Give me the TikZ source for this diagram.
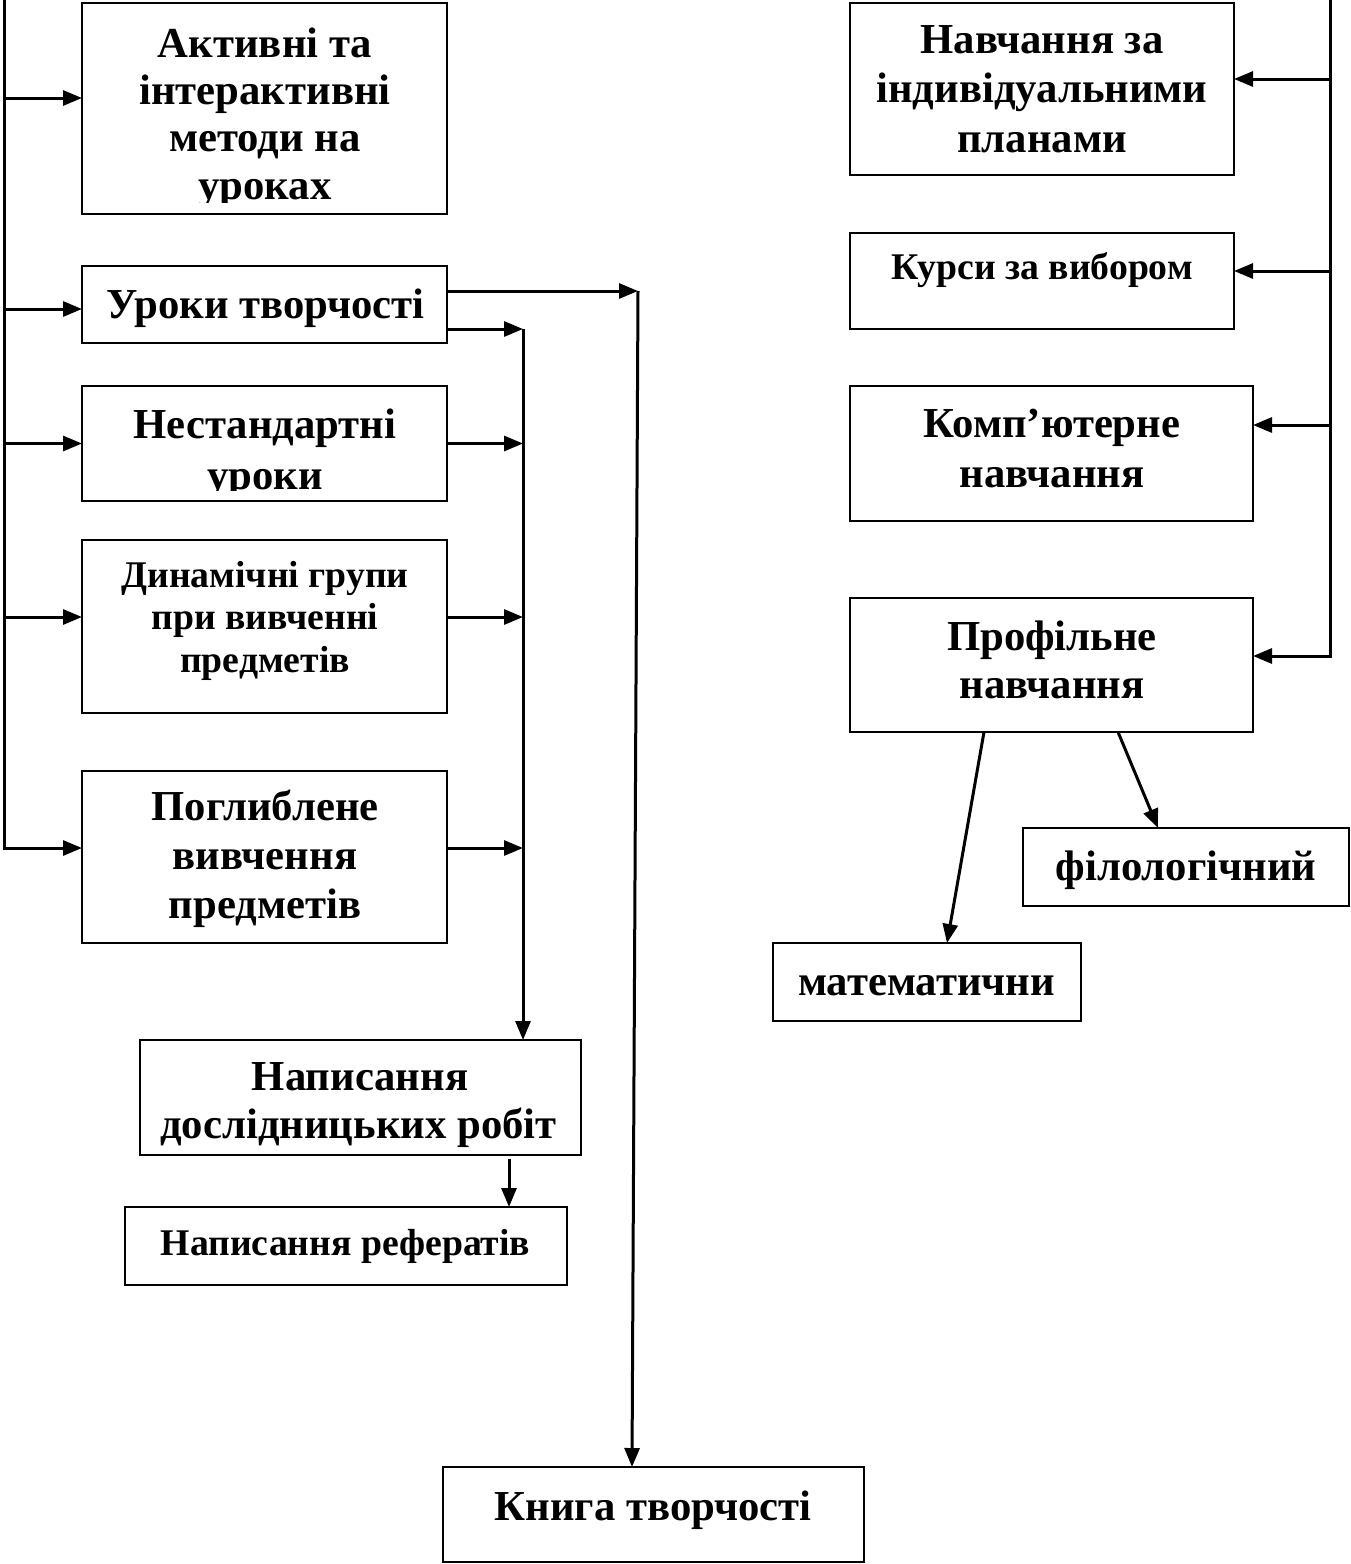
\documentclass[tikz,border=0pt]{standalone}
\usepackage{fontspec}
\setmainfont{Liberation Serif}
\usetikzlibrary{arrows.meta}
\begin{document}
\begin{tikzpicture}[x=1pt,y=-1pt,
  box/.style={draw=black, line width=2.5pt, rectangle, inner sep=0pt, outer sep=0pt},
  lbl/.style={anchor=base, inner sep=0pt, font=\fontsize{42.7}{42.7}\selectfont\bfseries},
  lbs/.style={anchor=base, inner sep=0pt, font=\fontsize{37.7}{37.7}\selectfont\bfseries},
  line/.style={draw=black, line width=3pt},
  arr/.style={line, -{Triangle[length=19pt,width=15pt]}}]
\useasboundingbox (0,0) rectangle (1350,1564);
% boxes
\node[box, minimum width=365pt, minimum height=211pt] (A) at (264.5,108.5) {};
\node[box, minimum width=365pt, minimum height=77pt] (U) at (264.5,304.5) {};
\node[box, minimum width=365pt, minimum height=115pt] (N) at (264.5,443.5) {};
\node[box, minimum width=365pt, minimum height=173pt] (D) at (264.5,626.5) {};
\node[box, minimum width=365pt, minimum height=172pt] (P) at (264.5,857) {};
\node[box, minimum width=441pt, minimum height=115pt] (W) at (360.5,1097.5) {};
\node[box, minimum width=442pt, minimum height=78pt] (R) at (346,1246) {};
\node[box, minimum width=421pt, minimum height=95pt] (K) at (653.5,1514.5) {};
\node[box, minimum width=384pt, minimum height=172pt] (NI) at (1042,89) {};
\node[box, minimum width=384pt, minimum height=96pt] (KV) at (1042,281) {};
\node[box, minimum width=403pt, minimum height=135pt] (KO) at (1051.5,453.5) {};
\node[box, minimum width=403pt, minimum height=134pt] (PR) at (1051.5,665) {};
\node[box, minimum width=326pt, minimum height=78pt] (F) at (1186,867) {};
\node[box, minimum width=308pt, minimum height=78pt] (M) at (927,982) {};
% texts
\begin{scope}
\clip (82,3) rectangle (447,202);
\node[lbl] (tA1) at (265,57) {Активні та};
\node[lbl] (tA2) at (265,104) {інтерактивні};
\node[lbl] (tA3) at (265,151) {методи на};
\node[lbl] (tA4) at (265,199) {уроках};
\end{scope}
\node[lbl] (tU) at (265.5,318) {Уроки творчості};
\begin{scope}
\clip (82,386) rectangle (447,490);
\node[lbl] (tN1) at (265,438) {Нестандартні};
\node[lbl] (tN2) at (265,489) {уроки};
\end{scope}
\node[lbs] (tD1) at (265,587) {Динамічні групи};
\node[lbs] (tD2) at (265,629) {при вивченні};
\node[lbs] (tD3) at (265,672) {предметів};
\node[lbl] (tP1) at (265,820) {Поглиблене};
\node[lbl] (tP2) at (265,869) {вивчення};
\node[lbl] (tP3) at (265,918) {предметів};
\node[lbl] (tW1) at (360,1090) {Написання};
\node[lbl] (tW2) at (358.5,1138) {дослідницьких робіт};
\node[lbs] (tR) at (345.5,1255) {Написання рефератів};
\node[lbl] (tK) at (653,1520) {Книга творчості};
\node[lbl] (tNI1) at (1042,53) {Навчання за};
\node[lbl] (tNI2) at (1042,102) {індивідуальними};
\node[lbl] (tNI3) at (1042,152) {планами};
\node[lbs] (tKV) at (1042,279) {Курси за вибором};
\node[lbl] (tKO1) at (1052,437) {Комп’ютерне};
\node[lbl] (tKO2) at (1052,487) {навчання};
\node[lbl] (tPR1) at (1052,650) {Профільне};
\node[lbl] (tPR2) at (1052,698) {навчання};
\node[lbl] (tF) at (1186,880) {філологічний};
\node[lbl] (tM) at (926.5,995) {математични};
% left bus
\coordinate (L0) at (4,0);
\coordinate (Aa) at ([yshift=10.5pt]A.west);
\coordinate (Ua) at ([yshift=-4.5pt]U.west);
\coordinate (Na) at (N.west);
\coordinate (Da) at ([yshift=9.5pt]D.west);
\coordinate (Pa) at ([yshift=9pt]P.west);
\draw[arr] (L0) -- (L0 |- Pa) -- (Pa);
\draw[arr] (L0 |- Aa) -- (Aa);
\draw[arr] (L0 |- Ua) -- (Ua);
\draw[arr] (L0 |- Na) -- (Na);
\draw[arr] (L0 |- Da) -- (Da);
% bus 2 to W
\coordinate (Wn) at ([xshift=162.5pt]W.north);
\coordinate (Ub2) at ([yshift=-24.5pt]U.east);
\draw[arr] (Ub2) -- (Wn |- Ub2);
\draw[arr] (Wn |- Ub2) -- (Wn);
\draw[arr] (N.east) -- (Wn |- N.east);
\coordinate (Db) at ([yshift=9.5pt]D.east);
\draw[arr] (Db) -- (Wn |- Db);
\coordinate (Pb) at ([yshift=9pt]P.east);
\draw[arr] (Pb) -- (Wn |- Pb);
% bus 3 to K
\coordinate (Ub3) at ([yshift=13.5pt]U.east);
\coordinate (B3t) at ([xshift=191pt]Ub3);
\coordinate (Kn) at ([xshift=-21.5pt]K.north);
\draw[arr] (Ub3) -- (B3t);
\draw[arr] (B3t) -- (Kn);
% W to R
\draw[arr] ([xshift=148.5pt,yshift=-4pt]W.south) -- ([xshift=163pt]R.north);
% right bus
\coordinate (R0) at (1330,0);
\coordinate (NIa) at ([yshift=10pt]NI.east);
\coordinate (KVa) at ([yshift=10pt]KV.east);
\coordinate (KOa) at ([yshift=28.5pt]KO.east);
\coordinate (PRa) at ([yshift=9pt]PR.east);
\draw[arr] (R0) -- (R0 |- PRa) -- (PRa);
\draw[arr] (R0 |- NIa) -- (NIa);
\draw[arr] (R0 |- KVa) -- (KVa);
\draw[arr] (R0 |- KOa) -- (KOa);
% profile branches
\draw[arr] ([xshift=-67.5pt]PR.south) -- ([xshift=20pt]M.north);
\draw[arr] ([xshift=66.5pt]PR.south) -- ([xshift=-28pt]F.north);
\end{tikzpicture}
\end{document}
